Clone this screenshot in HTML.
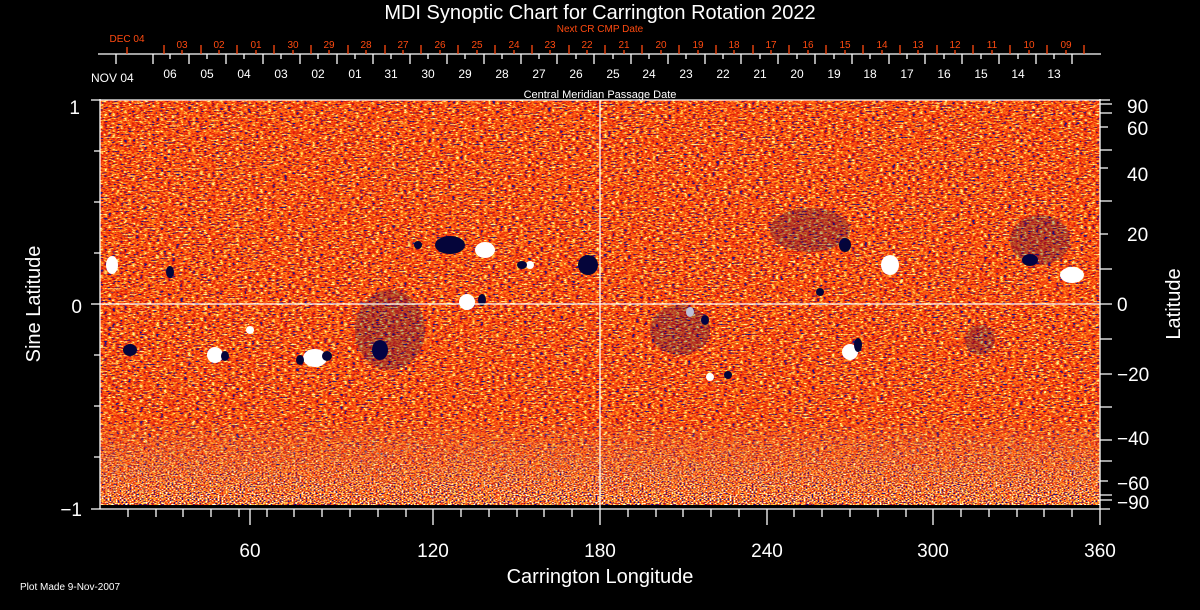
<!DOCTYPE html>
<html><head><meta charset="utf-8"><style>
html,body{margin:0;padding:0;background:#000;width:1200px;height:610px;overflow:hidden}
svg{display:block}
text{font-family:"Liberation Sans",sans-serif}
</style></head><body>
<svg width="1200" height="610" viewBox="0 0 1200 610" xmlns="http://www.w3.org/2000/svg">
<defs>
<filter id="nz" x="100" y="100" width="1000" height="405" filterUnits="userSpaceOnUse" color-interpolation-filters="sRGB">
<feTurbulence type="fractalNoise" baseFrequency="0.25 0.7" numOctaves="2" seed="4"/>
<feColorMatrix type="matrix" values="2.0 0 0 0 -0.5  2.0 0 0 0 -0.5  2.0 0 0 0 -0.5  0 0 0 0 1"/>
<feComponentTransfer>
<feFuncR type="discrete" tableValues="0.1 0.8 0.9 0.95 1 1 1 1"/>
<feFuncG type="discrete" tableValues="0.1 0.05 0.15 0.25 0.35 0.5 0.7 0.95"/>
<feFuncB type="discrete" tableValues="0.55 0.05 0.05 0.05 0.08 0.1 0.15 0.6"/>
</feComponentTransfer>
</filter>
<filter id="nz2" x="100" y="420" width="1000" height="85" filterUnits="userSpaceOnUse" color-interpolation-filters="sRGB">
<feTurbulence type="fractalNoise" baseFrequency="0.5 0.9" numOctaves="1" seed="9"/>
<feColorMatrix type="matrix" values="2.6 0 0 0 -0.8  2.6 0 0 0 -0.8  2.6 0 0 0 -0.8  0 0 0 0 1"/>
<feComponentTransfer>
<feFuncR type="discrete" tableValues="0.05 0.9 1 1 1 1"/>
<feFuncG type="discrete" tableValues="0.05 0.1 0.3 0.6 0.9 1"/>
<feFuncB type="discrete" tableValues="0.6 0.05 0.1 0.15 0.3 1"/>
</feComponentTransfer>
</filter>
<linearGradient id="fade" x1="0" y1="0" x2="0" y2="1">
<stop offset="0" stop-color="#fff" stop-opacity="0"/>
<stop offset="1" stop-color="#fff" stop-opacity="1"/>
</linearGradient>
<mask id="m" maskUnits="userSpaceOnUse" x="100" y="420" width="1000" height="85"><rect x="100" y="420" width="1000" height="85" fill="url(#fade)"/></mask>
</defs>
<rect x="100" y="100" width="1000" height="405" fill="#e85020" filter="url(#nz)"/>
<rect x="100" y="420" width="1000" height="85" fill="#e85020" filter="url(#nz2)" mask="url(#m)"/>
<g fill="#fff">
<ellipse cx="112" cy="265" rx="6" ry="9"/><ellipse cx="215" cy="355" rx="8" ry="8"/>
<ellipse cx="315" cy="358" rx="12" ry="9"/><ellipse cx="485" cy="250" rx="10" ry="8"/>
<ellipse cx="467" cy="302" rx="8" ry="8"/><ellipse cx="690" cy="312" rx="4" ry="5"/>
<ellipse cx="850" cy="352" rx="8" ry="8"/><ellipse cx="890" cy="265" rx="9" ry="10"/>
<ellipse cx="1072" cy="275" rx="12" ry="8"/><ellipse cx="530" cy="265" rx="4" ry="4"/>
<ellipse cx="710" cy="377" rx="4" ry="4"/><ellipse cx="250" cy="330" rx="4" ry="4"/>
</g>
<g fill="#05053a">
<ellipse cx="170" cy="272" rx="4" ry="6"/><ellipse cx="225" cy="356" rx="4" ry="5"/>
<ellipse cx="327" cy="356" rx="5" ry="5"/><ellipse cx="300" cy="360" rx="4" ry="5"/>
<ellipse cx="450" cy="245" rx="15" ry="9"/><ellipse cx="418" cy="245" rx="4" ry="4"/>
<ellipse cx="588" cy="265" rx="10" ry="10"/><ellipse cx="522" cy="265" rx="5" ry="4"/>
<ellipse cx="482" cy="300" rx="4" ry="6"/><ellipse cx="380" cy="350" rx="8" ry="10"/>
<ellipse cx="130" cy="350" rx="7" ry="6"/><ellipse cx="858" cy="345" rx="4" ry="7"/>
<ellipse cx="820" cy="292" rx="4" ry="4"/><ellipse cx="705" cy="320" rx="4" ry="5"/>
<ellipse cx="728" cy="375" rx="4" ry="4"/><ellipse cx="845" cy="245" rx="6" ry="7"/>
<ellipse cx="1030" cy="260" rx="8" ry="6"/>
</g>
<g fill="#000060" opacity="0.25">
<ellipse cx="1040" cy="240" rx="30" ry="25"/><ellipse cx="810" cy="230" rx="40" ry="22"/>
<ellipse cx="390" cy="330" rx="35" ry="40"/><ellipse cx="980" cy="340" rx="15" ry="15"/>
<ellipse cx="680" cy="330" rx="30" ry="25"/>
</g>
<rect x="100" y="505" width="1000" height="4" fill="#000"/>
<g stroke="#fff" stroke-width="1.3" fill="none">
<line x1="100" y1="304" x2="1100" y2="304"/><line x1="600" y1="100" x2="600" y2="509"/>
<line x1="100" y1="99" x2="100" y2="509"/><line x1="1100" y1="99" x2="1100" y2="509"/>
<line x1="91" y1="100" x2="1110" y2="100"/><line x1="91" y1="509" x2="1110" y2="509"/>
<line x1="91" y1="304" x2="100" y2="304"/>
<path d="M94 151h6M94 202h6M94 253h6M94 355h6M94 406h6M94 457h6"/>
<path d="M1100 104h12M1100 113h12M1100 127h8M1100 150h12M1100 168h8M1100 201h12M1100 234h8M1100 269h12M1100 304h12M1100 339h12M1100 374h12M1100 407h12M1100 440h12M1100 461h12M1100 481h8M1100 495h12M1100 500h12"/>
<line x1="98" y1="54" x2="1101" y2="54"/>
</g>
<g fill="#fff" font-size="19">
<text x="600" y="19" text-anchor="middle" font-size="20">MDI Synoptic Chart for Carrington Rotation 2022</text>
<text x="600" y="583" text-anchor="middle" font-size="20">Carrington Longitude</text>
<text transform="translate(40,304) rotate(-90)" text-anchor="middle" font-size="20">Sine Latitude</text>
<text transform="translate(1180,304) rotate(-90)" text-anchor="middle" font-size="20">Latitude</text>
<text x="80" y="114" text-anchor="end">1</text>
<text x="82" y="313" text-anchor="end">0</text>
<text x="82" y="516" text-anchor="end">−1</text>
<text x="1127" y="113">90</text><text x="1127" y="135">60</text><text x="1127" y="181">40</text>
<text x="1127" y="241">20</text><text x="1117" y="311">0</text><text x="1117" y="381">−20</text>
<text x="1117" y="445">−40</text><text x="1117" y="490">−60</text><text x="1117" y="509">−90</text>
<g text-anchor="middle">
<text x="250" y="557">60</text><text x="433" y="557">120</text><text x="600" y="557">180</text>
<text x="767" y="557">240</text><text x="933" y="557">300</text><text x="1100" y="557">360</text>
</g>
<text x="20" y="590" font-size="10">Plot Made  9-Nov-2007</text>
<text x="600" y="98" text-anchor="middle" font-size="11">Central Meridian Passage Date</text>
<text x="91" y="82" font-size="12">NOV 04</text>
<g font-size="12" text-anchor="middle">
<text x="170" y="78">06</text><text x="207" y="78">05</text><text x="244" y="78">04</text><text x="281" y="78">03</text><text x="318" y="78">02</text><text x="355" y="78">01</text><text x="391" y="78">31</text><text x="428" y="78">30</text><text x="465" y="78">29</text><text x="502" y="78">28</text><text x="539" y="78">27</text><text x="576" y="78">26</text><text x="613" y="78">25</text><text x="649" y="78">24</text><text x="686" y="78">23</text><text x="723" y="78">22</text><text x="760" y="78">21</text><text x="797" y="78">20</text><text x="834" y="78">19</text><text x="870" y="78">18</text><text x="907" y="78">17</text><text x="944" y="78">16</text><text x="981" y="78">15</text><text x="1018" y="78">14</text><text x="1054" y="78">13</text>
</g>
</g>
<g fill="#ff4a10" font-size="10" text-anchor="middle">
<text x="600" y="32">Next CR CMP Date</text>
<text x="127" y="42">DEC 04</text>
<text x="182" y="48">03</text><text x="219" y="48">02</text><text x="256" y="48">01</text><text x="293" y="48">30</text><text x="329" y="48">29</text><text x="366" y="48">28</text><text x="403" y="48">27</text><text x="440" y="48">26</text><text x="477" y="48">25</text><text x="514" y="48">24</text><text x="550" y="48">23</text><text x="587" y="48">22</text><text x="624" y="48">21</text><text x="661" y="48">20</text><text x="698" y="48">19</text><text x="734" y="48">18</text><text x="771" y="48">17</text><text x="808" y="48">16</text><text x="845" y="48">15</text><text x="882" y="48">14</text><text x="918" y="48">13</text><text x="955" y="48">12</text><text x="992" y="48">11</text><text x="1029" y="48">10</text><text x="1066" y="48">09</text>
</g>
<path stroke="#fff" stroke-width="1.3" d="M116 54v10M153 54v10M189 54v10M226 54v10M263 54v10M300 54v10M337 54v10M373 54v10M410 54v10M447 54v10M484 54v10M521 54v10M557 54v10M594 54v10M631 54v10M668 54v10M705 54v10M741 54v10M778 54v10M815 54v10M852 54v10M889 54v10M925 54v10M962 54v10M999 54v10M1036 54v10M1072 54v10M170 54v5M207 54v5M244 54v5M281 54v5M318 54v5M355 54v5M391 54v5M428 54v5M465 54v5M502 54v5M539 54v5M576 54v5M613 54v5M649 54v5M686 54v5M723 54v5M760 54v5M797 54v5M834 54v5M870 54v5M907 54v5M944 54v5M981 54v5M1018 54v5M1054 54v5"/>
<path stroke="#ff4a10" stroke-width="1.3" d="M127 54v-7M164 54v-9M201 54v-9M237 54v-9M274 54v-9M311 54v-9M348 54v-9M385 54v-9M421 54v-9M458 54v-9M495 54v-9M532 54v-9M569 54v-9M605 54v-9M642 54v-9M679 54v-9M716 54v-9M753 54v-9M789 54v-9M826 54v-9M863 54v-9M900 54v-9M937 54v-9M973 54v-9M1010 54v-9M1047 54v-9M1084 54v-9M182 54v-4M219 54v-4M256 54v-4M293 54v-4M329 54v-4M366 54v-4M403 54v-4M440 54v-4M477 54v-4M514 54v-4M550 54v-4M587 54v-4M624 54v-4M661 54v-4M698 54v-4M734 54v-4M771 54v-4M808 54v-4M845 54v-4M882 54v-4M918 54v-4M955 54v-4M992 54v-4M1029 54v-4M1066 54v-4"/>
<path stroke="#fff" stroke-width="1.3" d="M128 509v8M156 509v8M183 509v8M211 509v8M239 509v8M250 509v16M267 509v8M294 509v8M322 509v8M350 509v8M378 509v8M406 509v8M433 509v16M461 509v8M489 509v8M517 509v8M544 509v8M572 509v8M600 509v16M628 509v8M656 509v8M683 509v8M711 509v8M739 509v8M767 509v16M794 509v8M822 509v8M850 509v8M878 509v8M906 509v8M933 509v16M961 509v8M989 509v8M1017 509v8M1044 509v8M1072 509v8M1100 509v16"/>
</svg>
</body></html>
